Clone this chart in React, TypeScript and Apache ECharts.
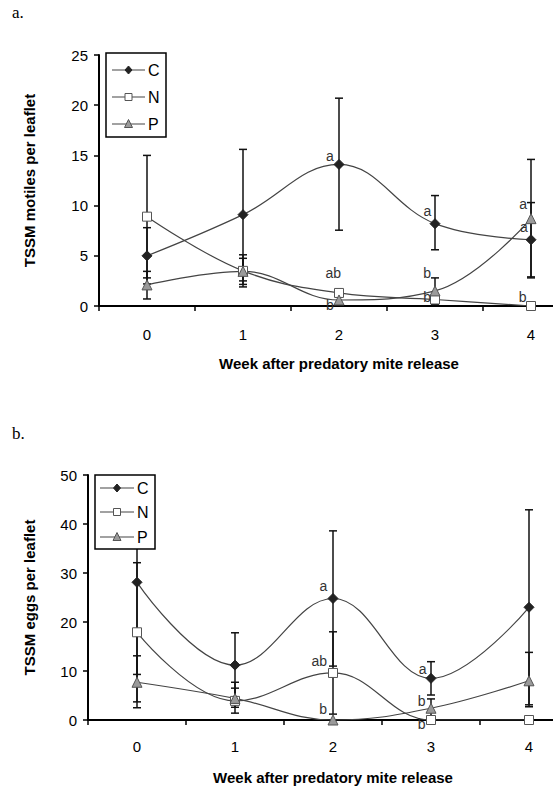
import React, { useEffect, useRef } from "react";
import * as echarts from "echarts";

const weeks = ["0", "1", "2", "3", "4"];
const seriesNames = ["C", "N", "P"];

// Panel a: TSSM motiles per leaflet
const motC = [5.0, 9.1, 14.1, 8.2, 6.6];
const motN = [8.9, 3.5, 1.3, 0.65, 0];
const motP = [2.1, 3.45, 0.6, 1.5, 8.7];
const motCLo = [2.2, 2.5, 7.55, 5.6, 2.9];
const motCHi = [7.8, 15.6, 20.7, 11.0, 10.3];
const motNLo = [2.8, 1.9, 0.9, 0.15, 0];
const motNHi = [15.0, 5.1, 1.65, 1.15, 0];
const motPLo = [0.7, 2.15, 0.25, 0.2, 2.8];
const motPHi = [3.45, 4.75, 0.95, 2.8, 14.6];
const motTicks = { max: 25, interval: 5 };
const motLetters: [number, number, string][] = [
  [1.906, 14.94, "a"], [1.94, 3.29, "ab"], [1.906, 0.1, "b"],
  [2.92, 9.46, "a"], [2.917, 3.29, "b"], [2.917, 0.9, "b"],
  [3.917, 10.16, "a"], [3.927, 7.87, "a"], [3.914, 0.9, "b"],
];

// Panel b: TSSM eggs per leaflet
const eggC = [28.1, 11.2, 24.8, 8.5, 23.0];
const eggN = [17.9, 3.9, 9.6, 0, 0];
const eggP = [7.7, 4.4, 0, 2.4, 8.0];
const eggCLo = [9.3, 4.6, 11.0, 5.1, 3.1];
const eggCHi = [46.9, 17.8, 38.6, 11.9, 42.9];
const eggNLo = [3.7, 1.4, 1.2, 0, 0];
const eggNHi = [32.1, 6.5, 18.0, 0, 0];
const eggPLo = [2.5, 2.6, 0, 0.5, 2.7];
const eggPHi = [13.1, 7.7, 0, 4.3, 13.8];
const eggTicks = { max: 50, interval: 10 };
const eggLetters: [number, number, string][] = [
  [1.901, 27.4, "a"], [1.86, 12.1, "ab"], [1.9, 2.2, "b"],
  [2.915, 10.35, "a"], [2.905, 3.9, "b"], [2.905, -0.9, "b"],
];

const FONT = "'Liberation Sans', Arial, sans-serif";
const LINE = "#444";

const styles: Record<string, any> = {
  C: { symbol: "diamond", symbolSize: 10, itemStyle: { color: "#222", borderColor: "#222", borderWidth: 1 } },
  N: { symbol: "rect", symbolSize: 9, itemStyle: { color: "#fff", borderColor: "#555", borderWidth: 1 } },
  P: { symbol: "triangle", symbolSize: 10, itemStyle: { color: "#9a9a9a", borderColor: "#555", borderWidth: 1 } },
};

function lineSeries(name: string, vals: number[], axisIdx: number) {
  return {
    type: "line",
    name,
    xAxisIndex: axisIdx,
    yAxisIndex: axisIdx === 1 ? 0 : 1,
    data: vals.map((v, i) => [i, v]),
    smooth: 0.4,
    lineStyle: { color: LINE, width: 1.2 },
    ...styles[name],
    z: 3,
  };
}

function errSeries(lo: number[], hi: number[], axisIdx: number) {
  const data = lo
    .map((l, i) => [i, l, hi[i]])
    .filter((d) => d[2] > d[1]);
  return {
    type: "custom",
    xAxisIndex: axisIdx,
    yAxisIndex: axisIdx === 1 ? 0 : 1,
    z: 1,
    silent: true,
    data,
    renderItem: (params: any, api: any) => {
      const x = api.value(0);
      const l = api.value(1);
      const h = api.value(2);
      const pH = api.coord([x, h]);
      const pL = api.coord([x, l]);
      const w = 4;
      const st = { stroke: "#111", lineWidth: 1.5 };
      return {
        type: "group",
        children: [
          { type: "line", shape: { x1: pH[0], y1: pH[1], x2: pL[0], y2: pL[1] }, style: st },
          { type: "line", shape: { x1: pH[0] - w, y1: pH[1], x2: pH[0] + w, y2: pH[1] }, style: st },
          { type: "line", shape: { x1: pL[0] - w, y1: pL[1], x2: pL[0] + w, y2: pL[1] }, style: st },
        ],
      };
    },
  };
}

function letterSeries(letters: [number, number, string][], axisIdx: number) {
  return {
    type: "custom",
    xAxisIndex: axisIdx,
    yAxisIndex: axisIdx === 1 ? 0 : 1,
    z: 5,
    silent: true,
    data: letters.map((d) => [d[0], d[1]]),
    renderItem: (params: any, api: any) => {
      const p = api.coord([api.value(0), api.value(1)]);
      return {
        type: "text",
        x: p[0],
        y: p[1],
        style: {
          text: letters[params.dataIndex][2],
          fill: "#333",
          font: `14px ${FONT}`,
          align: "center",
          verticalAlign: "middle",
        },
      };
    },
  };
}

function catAxis(gridIndex: number, labelMargin: number) {
  return {
    type: "category",
    gridIndex,
    data: weeks,
    boundaryGap: true,
    name: "Week after predatory mite release",
    nameLocation: "middle",
    nameGap: 50,
    nameTextStyle: { fontFamily: FONT, fontSize: 15, fontWeight: "bold", color: "#000" },
    axisLine: { onZero: false, lineStyle: { color: "#000", width: 2 } },
    axisTick: { show: true, length: 5, lineStyle: { color: "#000", width: 1.5 } },
    axisLabel: { fontFamily: FONT, fontSize: 15, color: "#000", margin: labelMargin },
    splitLine: { show: false },
  };
}

function valXAxis(gridIndex: number) {
  return { type: "value", gridIndex, min: -0.5, max: 4.5, show: false };
}

function yAx(gridIndex: number, name: string, t: { max: number; interval: number }, gap: number) {
  return {
    type: "value",
    gridIndex,
    position: "left",
    min: 0,
    max: t.max,
    interval: t.interval,
    name,
    nameLocation: "middle",
    nameGap: gap,
    nameRotate: 90,
    nameTextStyle: { fontFamily: FONT, fontSize: 15, fontWeight: "bold", color: "#000" },
    axisLine: { show: true, onZero: false, lineStyle: { color: "#000", width: 2 } },
    axisTick: { show: true, length: 5, lineStyle: { color: "#000", width: 1.5 } },
    axisLabel: { fontFamily: FONT, fontSize: 15, color: "#000", margin: 11 },
    splitLine: { show: false },
  };
}

// Hand-drawn legend box (graphic component)
function legendBox(x: number, y: number, w: number, h: number, rows: number[], lineX0: number, lineX1: number) {
  const mx = (lineX0 + lineX1) / 2;
  const Z = 50;
  const children: any[] = [
    { type: "rect", z: Z, shape: { x, y, width: w, height: h }, style: { fill: "#fff", stroke: "#000", lineWidth: 1.5 } },
  ];
  seriesNames.forEach((name, i) => {
    const cy = rows[i];
    children.push({ type: "line", z: Z + 1, shape: { x1: lineX0, y1: cy, x2: lineX1, y2: cy }, style: { stroke: LINE, lineWidth: 1.2 } });
    const st = styles[name].itemStyle;
    const s = { fill: st.color, stroke: st.borderColor, lineWidth: 1 };
    if (name === "C") {
      children.push({ type: "polygon", z: Z + 2, shape: { points: [[mx, cy - 4], [mx + 3.5, cy], [mx, cy + 4], [mx - 3.5, cy]] }, style: s });
    } else if (name === "N") {
      children.push({ type: "rect", z: Z + 2, shape: { x: mx - 3.5, y: cy - 3.5, width: 7, height: 7 }, style: s });
    } else {
      children.push({ type: "polygon", z: Z + 2, shape: { points: [[mx, cy - 4.5], [mx + 4, cy + 3.5], [mx - 4, cy + 3.5]] }, style: s });
    }
    children.push({
      type: "text",
      z: Z + 2,
      x: lineX1 + 3,
      y: cy,
      style: { text: name, font: `16px ${FONT}`, fill: "#000", verticalAlign: "middle", align: "left" },
    });
  });
  return { type: "group", z: Z, children };
}

export default function App() {
  const ref = useRef<HTMLDivElement>(null);
  useEffect(() => {
    if (!ref.current) return;
    const chart = echarts.init(ref.current, undefined, { renderer: "svg" });
    chart.setOption({
      animation: false,
      backgroundColor: "#fff",
      grid: [
        { left: 99, width: 480, top: 55, height: 251, outerBoundsMode: "none", containLabel: false },
        { left: 88, width: 490, top: 475, height: 245, outerBoundsMode: "none", containLabel: false },
      ],
      xAxis: [catAxis(0, 21), valXAxis(0), catAxis(1, 19), valXAxis(1)],
      yAxis: [
        yAx(0, "TSSM motiles per leaflet", motTicks, 62),
        yAx(1, "TSSM eggs per leaflet", eggTicks, 51),
      ],
      graphic: [
        { type: "text", left: 12, top: 4, style: { text: "a.", font: "17px 'Liberation Serif', serif", fill: "#000" } },
        { type: "text", left: 12, top: 425, style: { text: "b.", font: "17px 'Liberation Serif', serif", fill: "#000" } },
        legendBox(106, 53, 60, 84, [70, 97, 124], 112, 145),
        legendBox(95, 475, 60, 74, [488, 512, 537], 100, 134),
      ],
      series: [
        errSeries(motCLo, motCHi, 1),
        errSeries(motNLo, motNHi, 1),
        errSeries(motPLo, motPHi, 1),
        lineSeries("C", motC, 1),
        lineSeries("N", motN, 1),
        lineSeries("P", motP, 1),
        letterSeries(motLetters, 1),
        errSeries(eggCLo, eggCHi, 3),
        errSeries(eggNLo, eggNHi, 3),
        errSeries(eggPLo, eggPHi, 3),
        lineSeries("C", eggC, 3),
        lineSeries("N", eggN, 3),
        lineSeries("P", eggP, 3),
        letterSeries(eggLetters, 3),
      ],
    });
    return () => chart.dispose();
  }, []);
  return (
    <div
      ref={ref}
      style={{ position: "absolute", left: 0, top: 0, width: 553, height: 790 }}
    />
  );
}
